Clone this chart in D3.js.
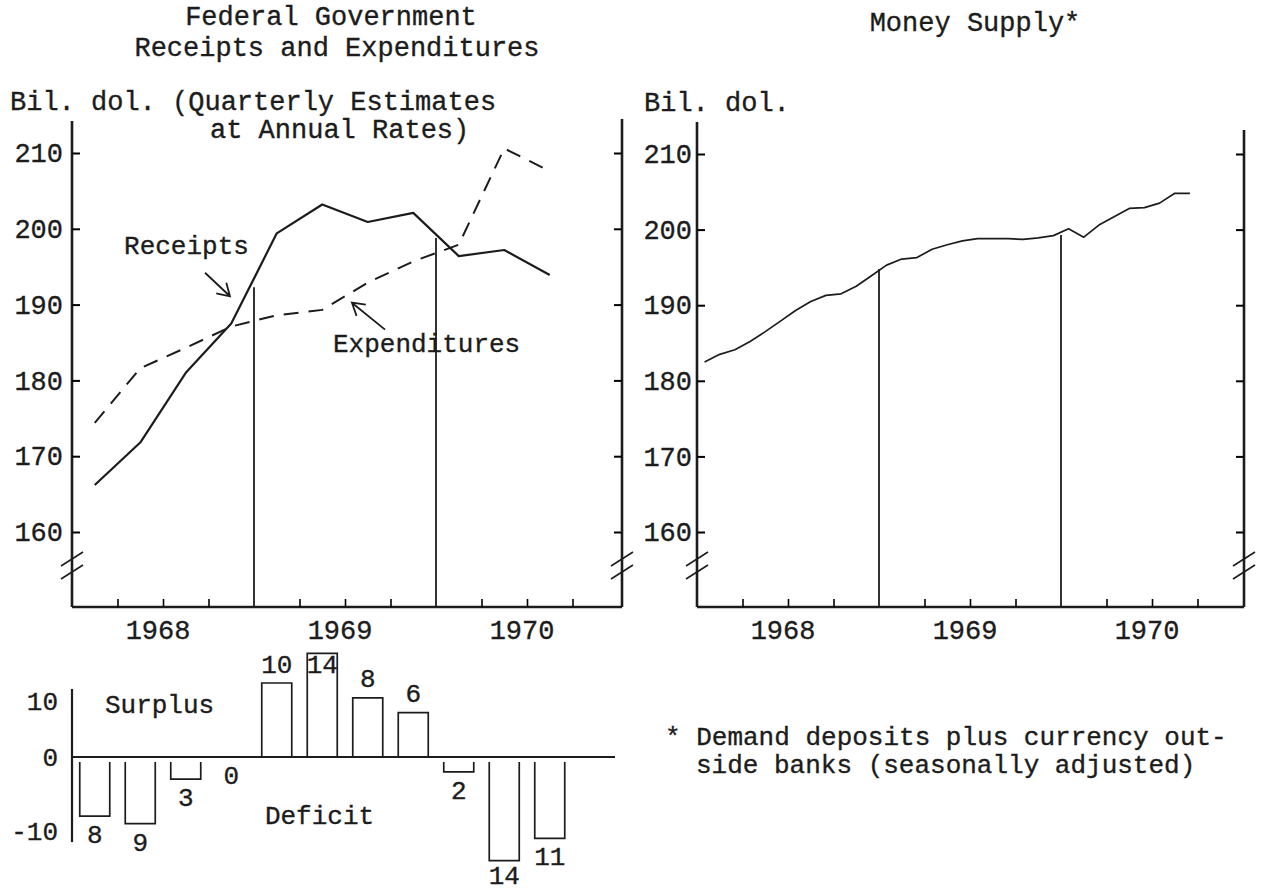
<!DOCTYPE html>
<html>
<head>
<meta charset="utf-8">
<script src="https://cdn.jsdelivr.net/npm/d3@7"></script>
<style>
  body { margin: 0; background: #fff; }
  svg text {
    font-family: "Liberation Mono", "Courier New", monospace;
    font-size: 26px;
    fill: #1c1c1c;
    stroke: #1c1c1c;
    stroke-width: 0.35px;
  }
  svg text.big { font-size: 27px; }
</style>
</head>
<body>
<script>
// quarterly estimates at annual rates, bil. dol.
const quarters = ["1968 Q1", "1968 Q2", "1968 Q3", "1968 Q4",
                  "1969 Q1", "1969 Q2", "1969 Q3", "1969 Q4",
                  "1970 Q1", "1970 Q2", "1970 Q3"];
const receipts     = [166.2, 171.8, 181.0, 187.5, 199.4, 203.2, 200.9, 202.1, 196.4, 197.2, 193.9];
const expenditures = [174.4, 181.6, 184.3, 187.1, 188.6, 189.3, 192.9, 195.7, 197.9, 210.6, 207.6];
const surplus      = [-8, -9, -3, 0, 10, 14, 8, 6, -2, -14, -11];

// money supply, monthly
const months = ["1968-01", "1968-02", "1968-03", "1968-04", "1968-05", "1968-06",
                "1968-07", "1968-08", "1968-09", "1968-10", "1968-11", "1968-12",
                "1969-01", "1969-02", "1969-03", "1969-04", "1969-05", "1969-06",
                "1969-07", "1969-08", "1969-09", "1969-10", "1969-11", "1969-12",
                "1970-01", "1970-02", "1970-03", "1970-04", "1970-05", "1970-06",
                "1970-07", "1970-08", "1970-09"];
const moneySupply = [182.5, 183.5, 184.1, 185.2, 186.5, 187.9, 189.3, 190.5, 191.3, 191.5, 192.5, 193.9,
                     195.3, 196.1, 196.3, 197.4, 198.0, 198.5, 198.8, 198.8, 198.8, 198.7, 198.9, 199.2,
                     200.1, 199.0, 200.6, 201.7, 202.8, 202.9, 203.5, 204.8, 204.8];

const yTicks = [160, 170, 180, 190, 200, 210];
const barTicks = [10, 0, -10];
const years = [1968, 1969, 1970];
const dividerYears = [1969, 1970];
const fedDividerTops = [192.3, 198.8];
const moneyDividerTops = [194.8, 199.3];

function qTime(label) {
    const p = label.split(" Q");
    return +p[0] + (+p[1] - 0.5) / 4;
}
function mTime(label) {
    const p = label.split("-");
    return +p[0] + (+p[1] - 0.5) / 12;
}

const svg = d3.select("body").append("svg")
    .attr("width", 1261)
    .attr("height", 894);

const axisBottomY = 607;
const ink = "#1c1c1c";

// draws frame, ticks, breaks, year labels and year dividers
function drawPanel(x, y, rightX, topLeft, topRight, dividerTops, labelPad) {
    const left = x.range()[0];
    const g = svg.append("g");

    g.append("line").attr("x1", left).attr("x2", left).attr("y1", topLeft).attr("y2", axisBottomY)
        .attr("stroke", ink).attr("stroke-width", 2.6);
    g.append("line").attr("x1", rightX).attr("x2", rightX).attr("y1", topRight).attr("y2", axisBottomY)
        .attr("stroke", ink).attr("stroke-width", 2.6);
    g.append("line").attr("x1", left).attr("x2", rightX).attr("y1", axisBottomY).attr("y2", axisBottomY)
        .attr("stroke", ink).attr("stroke-width", 2.4);

    // y ticks
    const yl = g.append("g")
        .attr("transform", `translate(${left},0)`)
        .call(d3.axisLeft(y).tickValues(yTicks).tickSizeInner(-8).tickSizeOuter(0).tickPadding(labelPad));
    yl.select(".domain").remove();
    yl.selectAll("line").attr("stroke-width", 2);
    yl.selectAll("text").attr("class", "big");

    const yr = g.append("g")
        .attr("transform", `translate(${rightX},0)`)
        .call(d3.axisRight(y).tickValues(yTicks).tickSizeInner(-8).tickSizeOuter(0).tickFormat(""));
    yr.select(".domain").remove();
    yr.selectAll("line").attr("stroke-width", 2);

    // quarter ticks on the time axis
    const qt = g.append("g")
        .attr("transform", `translate(0,${axisBottomY})`)
        .call(d3.axisBottom(x).tickValues(d3.range(1968.25, 1971, 0.25).filter(d => d % 1 !== 0))
            .tickSizeInner(-8).tickSizeOuter(0).tickFormat(""));
    qt.select(".domain").remove();
    qt.selectAll("line").attr("stroke-width", 1.6);

    // year labels
    const yt = g.append("g")
        .attr("transform", `translate(0,${axisBottomY})`)
        .call(d3.axisBottom(x).tickValues(years.map(d => d + 0.47)).tickSize(0).tickPadding(13)
            .tickFormat(d => Math.floor(d)));
    yt.select(".domain").remove();
    yt.selectAll("text").attr("class", "big");

    // scale break marks
    [left, rightX].forEach(ax => {
        [559, 572].forEach(by => {
            g.append("line")
                .attr("x1", ax - 11).attr("y1", by + 7)
                .attr("x2", ax + 11).attr("y2", by - 7)
                .attr("stroke", ink).attr("stroke-width", 1.6);
        });
    });

    // year dividers
    g.selectAll(".divider")
        .data(dividerYears)
        .enter()
        .append("line")
        .attr("x1", d => x(d)).attr("x2", d => x(d))
        .attr("y1", (d, i) => y(dividerTops[i]))
        .attr("y2", axisBottomY)
        .attr("stroke", ink).attr("stroke-width", 1.8);
}

// ---------- left panel: receipts and expenditures ----------
const xFed = d3.scaleLinear().domain([1968, 1971]).range([72, 618]);
const yFed = d3.scaleLinear().domain([160, 210]).range([532, 153]);

drawPanel(xFed, yFed, 622, 121, 119, fedDividerTops, 9);

const fedLine = d3.line()
    .x((d, i) => xFed(qTime(quarters[i])))
    .y(d => yFed(d));

svg.append("path")
    .datum(receipts)
    .attr("d", fedLine)
    .attr("fill", "none")
    .attr("stroke", ink)
    .attr("stroke-width", 2.2)
    .attr("stroke-linejoin", "round");

svg.append("path")
    .datum(expenditures)
    .attr("d", fedLine)
    .attr("fill", "none")
    .attr("stroke", ink)
    .attr("stroke-width", 2)
    .attr("stroke-dasharray", "15,10");

// labels with arrows
function arrow(x0, y0, x1, y1) {
    const a = Math.atan2(y1 - y0, x1 - x0);
    const len = 14, spread = 0.55;
    const p = d3.path();
    p.moveTo(x0, y0);
    p.lineTo(x1, y1);
    p.moveTo(x1 - len * Math.cos(a - spread), y1 - len * Math.sin(a - spread));
    p.lineTo(x1, y1);
    p.lineTo(x1 - len * Math.cos(a + spread), y1 - len * Math.sin(a + spread));
    svg.append("path").attr("d", p.toString())
        .attr("fill", "none").attr("stroke", ink).attr("stroke-width", 1.8);
}

svg.append("text")
    .attr("x", xFed(1968.286)).attr("y", yFed(197.65))
    .attr("dominant-baseline", "central")
    .text("Receipts");
arrow(xFed(1968.731), yFed(194.2), xFed(1968.868), yFed(191.1));

svg.append("text")
    .attr("x", xFed(1969.434)).attr("y", yFed(184.7))
    .attr("dominant-baseline", "central")
    .text("Expenditures");
arrow(xFed(1969.72), yFed(186.7), xFed(1969.538), yFed(190.25));

// titles
svg.append("text").attr("class", "big").attr("x", 331).attr("y", 25).attr("text-anchor", "middle")
    .text("Federal Government");
svg.append("text").attr("class", "big").attr("x", 337).attr("y", 56).attr("text-anchor", "middle")
    .text("Receipts and Expenditures");
svg.append("text").attr("class", "big").attr("x", 10).attr("y", 110)
    .text("Bil. dol. (Quarterly Estimates");
svg.append("text").attr("class", "big").attr("x", 210).attr("y", 138)
    .text("at Annual Rates)");

// ---------- surplus / deficit bars ----------
const yBar = d3.scaleLinear().domain([-10, 10]).range([831, 683]);
const y0 = yBar(0);
const barW = 30;

svg.append("line")
    .attr("x1", xFed(1968)).attr("x2", xFed(1968)).attr("y1", yBar(9.2)).attr("y2", yBar(-11.5))
    .attr("stroke", ink).attr("stroke-width", 2.2);
svg.append("line")
    .attr("x1", xFed(1968)).attr("x2", 615).attr("y1", y0).attr("y2", y0)
    .attr("stroke", ink).attr("stroke-width", 2.2);

const bt = svg.append("g")
    .attr("transform", `translate(${xFed(1968)},0)`)
    .call(d3.axisLeft(yBar).tickValues(barTicks).tickSize(0).tickPadding(14).tickFormat(d => String(d)));
bt.select(".domain").remove();
bt.selectAll("text").attr("dy", d => d > 0 ? "1.0em" : "0.32em");

svg.append("g")
    .selectAll("path")
    .data(surplus)
    .enter()
    .append("path")
    .attr("d", (d, i) => {
        const cx = xFed(qTime(quarters[i]));
        const l = cx - barW / 2, r = cx + barW / 2;
        const start = d < 0 ? y0 + 5 : y0;
        return `M${l},${start}V${yBar(d)}H${r}V${start}`;
    })
    .attr("fill", "none")
    .attr("stroke", ink)
    .attr("stroke-width", 1.7);

svg.append("g")
    .selectAll("text")
    .data(surplus)
    .enter()
    .append("text")
    .attr("x", (d, i) => xFed(qTime(quarters[i])))
    .attr("y", d => d > 0 ? Math.max(yBar(d) - 18, yBar(12.3)) : Math.min(yBar(d) + 20, 877))
    .attr("text-anchor", "middle")
    .attr("dominant-baseline", "central")
    .text(d => Math.abs(d));

svg.append("text").attr("x", xFed(1968.181)).attr("y", yBar(6.95))
    .attr("dominant-baseline", "central").text("Surplus");
svg.append("text").attr("x", xFed(1969.06)).attr("y", yBar(-8.1))
    .attr("dominant-baseline", "central").text("Deficit");

// ---------- right panel: money supply ----------
const xMoney = d3.scaleLinear().domain([1968, 1971]).range([697, 1243]);
const yMoney = d3.scaleLinear().domain([160, 210]).range([532, 154]);

drawPanel(xMoney, yMoney, 1244, 122, 130, moneyDividerTops, 5);

svg.append("path")
    .datum(moneySupply)
    .attr("d", d3.line()
        .x((d, i) => xMoney(mTime(months[i])))
        .y(d => yMoney(d)))
    .attr("fill", "none")
    .attr("stroke", ink)
    .attr("stroke-width", 1.7)
    .attr("stroke-linejoin", "round");

svg.append("text").attr("class", "big").attr("x", 975).attr("y", 31).attr("text-anchor", "middle")
    .text("Money Supply*");
svg.append("text").attr("class", "big").attr("x", 644).attr("y", 111)
    .text("Bil. dol.");

svg.append("text").attr("x", 665).attr("y", 745).text("* Demand deposits plus currency out-");
svg.append("text").attr("x", 696).attr("y", 773).text("side banks (seasonally adjusted)");
</script>
</body>
</html>
